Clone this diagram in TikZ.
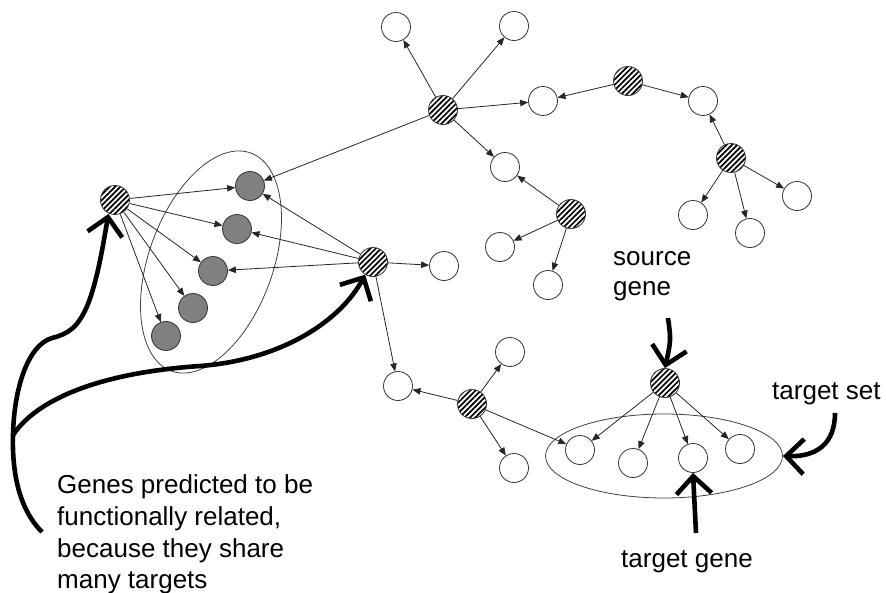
\documentclass[tikz,border=0pt]{standalone}
\usepackage{fontspec}
\setmainfont{Liberation Sans}
\usetikzlibrary{arrows.meta,patterns.meta,shapes.geometric}
\begin{document}
\begin{tikzpicture}[x=1pt,y=-1pt,
  gene/.style={circle, draw=black!80, line width=0.8pt, minimum size=29pt, inner sep=0pt},
  wnode/.style={gene, fill=white},
  gnode/.style={gene, fill=black!50},
  hnode/.style={gene, preaction={fill=white}, pattern={Lines[angle=45,distance=3.8pt,line width=1.7pt]}},
  link/.style={draw=black!85, line width=0.8pt, -{Triangle[length=8pt,width=6.5pt]}},
  pointer/.style={draw=black, line width=4.6pt, -{Straight Barb[length=13pt,width=26pt,scale=1.35]}},
  lbl/.style={font=\fontsize{26}{32}\selectfont, inner sep=0pt, anchor=base west},
  groupring/.style={draw=black!75, line width=0.8pt, ellipse, inner sep=0pt}
]
\useasboundingbox (0,0) rectangle (886,592);

% grouping ellipses
\node[groupring, minimum width=232pt, minimum height=124pt, rotate=70] (cluster) at (211,262) {};
\node[groupring, minimum width=237pt, minimum height=84pt] (tset) at (664,456) {};

% regulators (hatched)
\node[hnode] (H1) at (115,200) {};
\node[hnode] (H2) at (443,110) {};
\node[hnode] (H3) at (628,81) {};
\node[hnode] (H4) at (731,158) {};
\node[hnode] (H5) at (571,214) {};
\node[hnode] (H6) at (373,262) {};
\node[hnode] (H7) at (472,404) {};
\node[hnode] (H8) at (665,383) {};

% shared targets (grey)
\node[gnode] (G1) at (250,186) {};
\node[gnode] (G2) at (237,229) {};
\node[gnode] (G3) at (213,271) {};
\node[gnode] (G4) at (193,308) {};
\node[gnode] (G5) at (166,336) {};

% other targets (white)
\node[wnode] (W1) at (396,27) {};
\node[wnode] (W2) at (514,26) {};
\node[wnode] (W3) at (543,101) {};
\node[wnode] (W4) at (505,167) {};
\node[wnode] (W5) at (703,101) {};
\node[wnode] (W6) at (797,196) {};
\node[wnode] (W7) at (693,215) {};
\node[wnode] (W8) at (750,233) {};
\node[wnode] (W9) at (500,247) {};
\node[wnode] (W10) at (548,285) {};
\node[wnode] (W11) at (444,266) {};
\node[wnode] (W12) at (398,386) {};
\node[wnode] (W13) at (510,352) {};
\node[wnode] (W14) at (514,468) {};
\node[wnode] (T1) at (580,450) {};
\node[wnode] (T2) at (633,463) {};
\node[wnode] (T3) at (693,458) {};
\node[wnode] (T4) at (740,449) {};

% regulatory links
\foreach \t in {G1,G2,G3,G4,G5} \draw[link] (H1) -- (\t);
\foreach \t in {G1,W1,W2,W3,W4} \draw[link] (H2) -- (\t);
\foreach \t in {W3,W5} \draw[link] (H3) -- (\t);
\foreach \t in {W5,W6,W7,W8} \draw[link] (H4) -- (\t);
\foreach \t in {W4,W9,W10} \draw[link] (H5) -- (\t);
\foreach \t in {G1,G2,G3,W11,W12} \draw[link] (H6) -- (\t);
\foreach \t in {W12,W13,W14,T1} \draw[link] (H7) -- (\t);
\foreach \t in {T1,T2,T3,T4} \draw[link] (H8) -- (\t);

% labels
\node[lbl] (srcA) at (613,265) {source};
\node[lbl] (srcB) at (613,295) {gene};
\node[lbl] (tsetlbl) at (772,399) {target set};
\node[lbl] (tgenelbl) at (621,567) {target gene};
\node[lbl] (noteA) at (57,493) {Genes predicted to be};
\node[lbl] (noteB) at (57,525) {functionally related,};
\node[lbl] (noteC) at (57,557) {because they share};
\node[lbl] (noteD) at (57,588) {many targets};

% annotation pointers
\coordinate (srcTail) at (668,318);
\coordinate (setTail) at (835,413);
\coordinate (tgTail) at (696,533);
\coordinate (noteEnd) at (42,532);
\coordinate (fork) at (13,435);

\draw[pointer] (srcTail) .. controls (671,340) .. (H8.north);
\draw[pointer] (setTail) .. controls (835,445) and (815,457) .. (tset.east);
\draw[pointer] (tgTail) -- (T3.south);
\draw[pointer] (noteEnd) .. controls (18,508) and (12,470) .. (fork)
  .. controls (14,388) and (28,345) .. (52,338)
  .. controls (68,334) and (78,328) .. (88,304)
  .. controls (98,278) and (103,245) .. (H1.245);
\draw[pointer] (fork) .. controls (40,395) and (110,372) .. (200,366)
  .. controls (280,360) and (340,322) .. (H6.238);
\end{tikzpicture}
\end{document}
